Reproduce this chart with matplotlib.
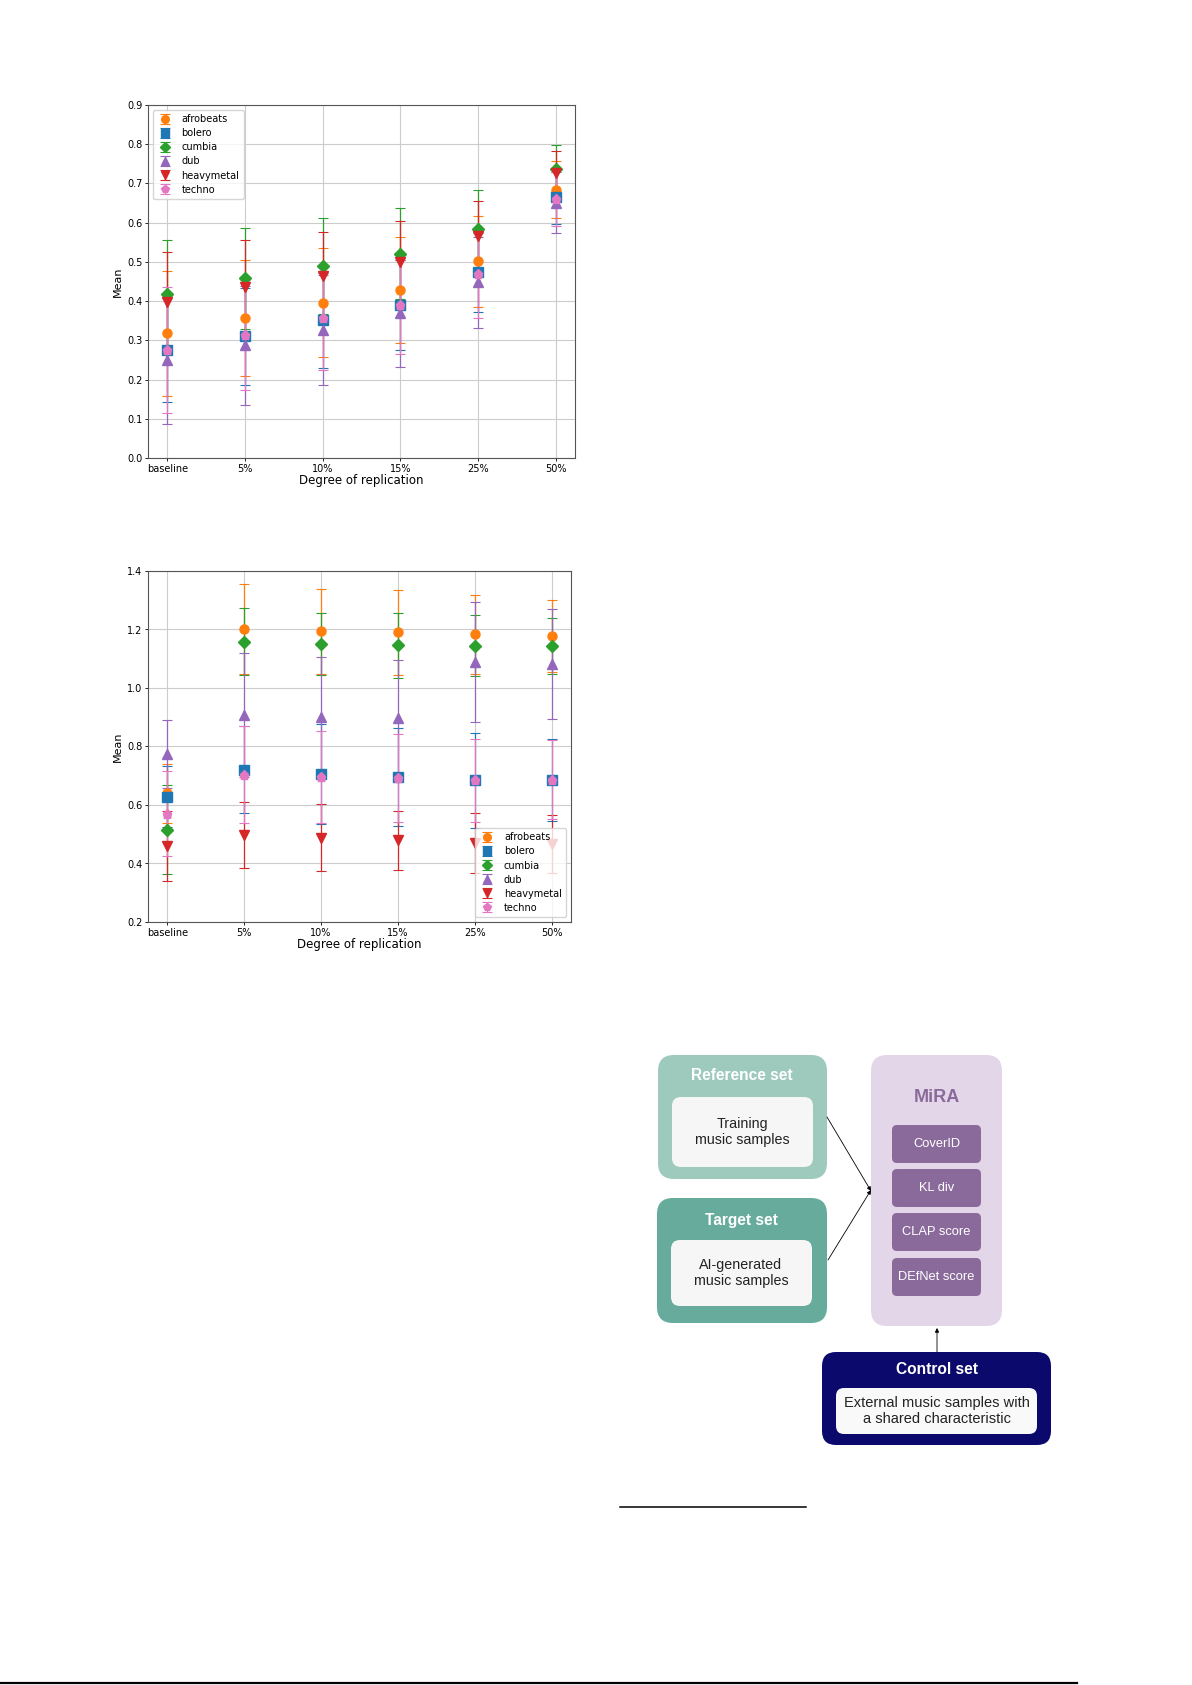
import numpy as np
import matplotlib.pyplot as plt
from matplotlib.patches import FancyBboxPatch

# degrees of replication (x categories) and genres
degrees = ['baseline', '5%', '10%', '15%', '25%', '50%']
genres = ['afrobeats', 'bolero', 'cumbia', 'dub', 'heavymetal', 'techno']
colors = ['tab:orange', 'tab:blue', 'tab:green', 'tab:purple', 'tab:red', 'tab:pink']
markers = ['o', 's', 'D', '^', 'v', 'p']

# top chart: means and std per genre
top_afrobeats = [0.318, 0.357, 0.396, 0.429, 0.501, 0.684]
top_bolero = [0.276, 0.310, 0.351, 0.390, 0.473, 0.665]
top_cumbia = [0.418, 0.458, 0.490, 0.521, 0.583, 0.736]
top_dub = [0.250, 0.287, 0.327, 0.369, 0.448, 0.651]
top_heavymetal = [0.399, 0.437, 0.465, 0.499, 0.565, 0.726]
top_techno = [0.276, 0.314, 0.357, 0.389, 0.469, 0.660]

top_afrobeats_err = [0.159, 0.147, 0.139, 0.135, 0.115, 0.073]
top_bolero_err = [0.133, 0.123, 0.121, 0.115, 0.101, 0.069]
top_cumbia_err = [0.139, 0.129, 0.122, 0.116, 0.100, 0.062]
top_dub_err = [0.163, 0.151, 0.140, 0.136, 0.116, 0.078]
top_heavymetal_err = [0.126, 0.118, 0.111, 0.105, 0.090, 0.056]
top_techno_err = [0.160, 0.140, 0.132, 0.124, 0.112, 0.069]

# bottom chart
bot_afrobeats = [0.640, 1.203, 1.194, 1.191, 1.183, 1.177]
bot_bolero = [0.629, 0.721, 0.705, 0.696, 0.684, 0.686]
bot_cumbia = [0.516, 1.158, 1.152, 1.146, 1.145, 1.144]
bot_dub = [0.774, 0.907, 0.901, 0.899, 1.089, 1.083]
bot_heavymetal = [0.461, 0.497, 0.488, 0.479, 0.470, 0.468]
bot_techno = [0.570, 0.704, 0.696, 0.693, 0.684, 0.687]

bot_afrobeats_err = [0.100, 0.154, 0.146, 0.145, 0.134, 0.123]
bot_bolero_err = [0.104, 0.150, 0.171, 0.168, 0.163, 0.140]
bot_cumbia_err = [0.151, 0.114, 0.106, 0.112, 0.103, 0.096]
bot_dub_err = [0.116, 0.211, 0.205, 0.196, 0.205, 0.188]
bot_heavymetal_err = [0.120, 0.114, 0.114, 0.102, 0.101, 0.099]
bot_techno_err = [0.145, 0.165, 0.157, 0.151, 0.143, 0.134]

top_means = [top_afrobeats, top_bolero, top_cumbia, top_dub, top_heavymetal, top_techno]
top_errs = [top_afrobeats_err, top_bolero_err, top_cumbia_err, top_dub_err,
            top_heavymetal_err, top_techno_err]
bot_means = [bot_afrobeats, bot_bolero, bot_cumbia, bot_dub, bot_heavymetal, bot_techno]
bot_errs = [bot_afrobeats_err, bot_bolero_err, bot_cumbia_err, bot_dub_err,
            bot_heavymetal_err, bot_techno_err]

W, H = 1192, 1685
fig = plt.figure(figsize=(W / 100, H / 100), dpi=100)


def px_axes(x0, y0, x1, y1):
    return fig.add_axes([x0 / W, 1 - y1 / H, (x1 - x0) / W, (y1 - y0) / H])


def errplot(ax, means, errs, ylim, yticks, legend_loc):
    x = np.arange(len(degrees))
    for g, m, e, c, mk in zip(genres, means, errs, colors, markers):
        ax.errorbar(x, m, yerr=e, fmt=mk, color=c, ecolor=c, markersize=6.5,
                    elinewidth=0.9, capsize=3.5, capthick=0.8, label=g)
    ax.set_xticks(x)
    ax.set_xticklabels(degrees)
    ax.set_ylim(*ylim)
    ax.set_yticks(yticks)
    ax.set_yticklabels(['%.1f' % v for v in yticks])
    ax.set_xlim(-0.25, len(degrees) - 0.75)
    ax.grid(True, color='#cccccc', linewidth=0.8)
    ax.set_axisbelow(True)
    ax.tick_params(labelsize=7, length=2.5, width=0.6, pad=1.5)
    for s in ax.spines.values():
        s.set_color('#555555')
        s.set_linewidth(0.8)
    ax.set_xlabel('Degree of replication', fontsize=8.5, labelpad=0)
    ax.set_ylabel('Mean', fontsize=8, labelpad=3)
    ax.legend(loc=legend_loc, fontsize=7, handletextpad=1.0, labelspacing=0.42,
              borderpad=0.45, handlelength=1.5, markerscale=0.85)


ax1 = px_axes(148, 105, 575, 458)
errplot(ax1, top_means, top_errs, (0.0, 0.9), np.arange(0, 0.91, 0.1), 'upper left')

ax2 = px_axes(148, 571, 571, 922)
errplot(ax2, bot_means, bot_errs, (0.2, 1.4), np.arange(0.2, 1.41, 0.2), 'lower right')

# diagram overlay in pixel coordinates
ov = fig.add_axes([0, 0, 1, 1], zorder=5)
ov.set_xlim(0, W)
ov.set_ylim(H, 0)
ov.axis('off')
ov.patch.set_alpha(0)


def rbox(x0, y0, x1, y1, color, r):
    ov.add_patch(FancyBboxPatch((x0, y0), x1 - x0, y1 - y0,
                                boxstyle='round,pad=0,rounding_size=%d' % r,
                                facecolor=color, edgecolor='none'))


font = ['Liberation Sans', 'DejaVu Sans']
ref_c = '#9dcabd'
tgt_c = '#66ab9b'
mira_bg = '#e4d6e9'
mira_c = '#8a6a9b'
ctrl_c = '#0b0a6c'
inner_c = '#f6f6f6'

# reference set
rbox(658, 1055, 827, 1179, ref_c, 16)
rbox(672, 1097, 813, 1167, inner_c, 9)
ov.text(742, 1075, 'Reference set', ha='center', va='center', color='white',
        fontsize=11.2, fontweight='bold', family=font)
ov.text(742, 1132, 'Training\nmusic samples', ha='center', va='center', color='#222222',
        fontsize=10.3, family=font, linespacing=1.2)

# target set
rbox(657, 1198, 827, 1323, tgt_c, 16)
rbox(671, 1240, 812, 1306, inner_c, 9)
ov.text(741, 1220, 'Target set', ha='center', va='center', color='white',
        fontsize=11.2, fontweight='bold', family=font)
ov.text(741, 1273, 'AI-generated\nmusic samples', ha='center', va='center', color='#222222',
        fontsize=10.3, family=font, linespacing=1.2)

# MiRA
rbox(871, 1055, 1002, 1326, mira_bg, 16)
ov.text(937, 1098, 'MiRA', ha='center', va='center', color=mira_c,
        fontsize=13, fontweight='bold', family=font)
for label, (y0, y1) in zip(['CoverID', 'KL div', 'CLAP score', 'DEfNet score'],
                           [(1125, 1163), (1169, 1207), (1213, 1251), (1258, 1296)]):
    rbox(892, y0, 981, y1, mira_c, 5)
    ov.text(936.5, (y0 + y1) / 2, label, ha='center', va='center', color='white',
            fontsize=9.3, family=font)

# control set
rbox(822, 1352, 1051, 1445, ctrl_c, 14)
rbox(836, 1388, 1037, 1434, '#f9f9f9', 8)
ov.text(937, 1369, 'Control set', ha='center', va='center', color='white',
        fontsize=11.2, fontweight='bold', family=font)
ov.text(937, 1411, 'External music samples with\na shared characteristic', ha='center',
        va='center', color='#222222', fontsize=10.5, family=font, linespacing=1.15)

# arrows
arrow = dict(arrowstyle='-|>', color='black', lw=0.6, mutation_scale=6,
             shrinkA=0, shrinkB=0)
ov.annotate('', xy=(871, 1191), xytext=(827, 1117), arrowprops=arrow)
ov.annotate('', xy=(871, 1190), xytext=(828, 1260), arrowprops=arrow)
ov.annotate('', xy=(937, 1328), xytext=(937, 1352), arrowprops=arrow)

# footnote rule and page rule
ov.plot([620, 806], [1507, 1507], color='black', lw=1.1)
ov.plot([0, 1077], [1683, 1683], color='black', lw=1.6)

plt.savefig('out.png', dpi=100)
